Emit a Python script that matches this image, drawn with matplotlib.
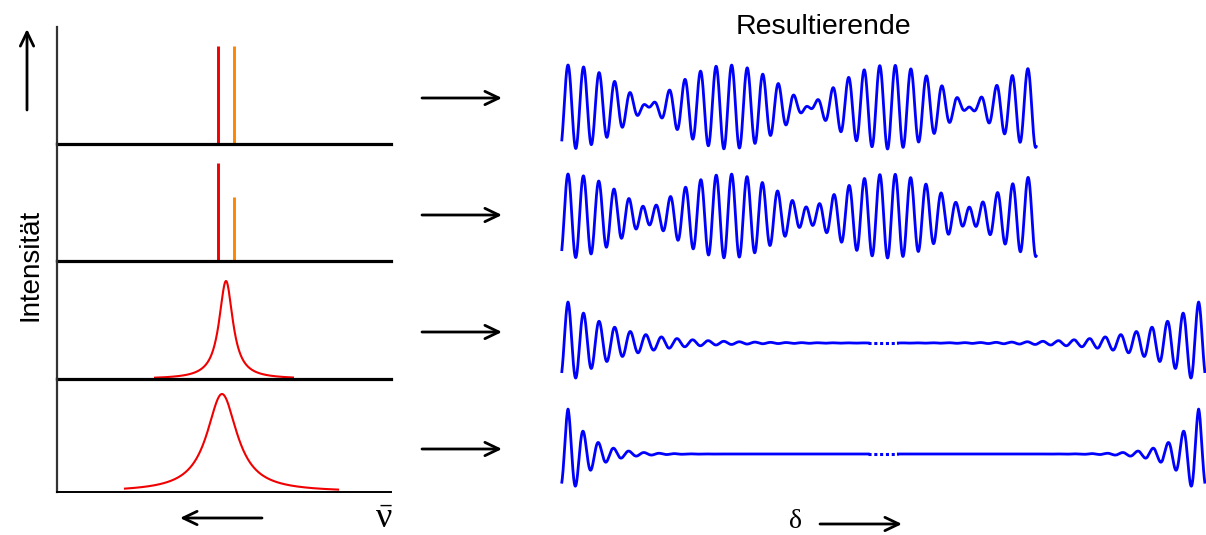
import numpy as np
import matplotlib
matplotlib.use("Agg")
import matplotlib.pyplot as plt

# ---------------- data ----------------
# spectral lines: wavenumber (arbitrary units, axis runs right->left) and relative intensity
doublet_nu = [1.036, 0.940]              # red line, orange line
doublet_int_equal = [1.0, 1.0]
doublet_int_unequal = [1.0, 0.65]
doublet_colors = ['#f00000', '#ff8400']
# broadened bands (Lorentzian): centre, half width, drawn range
band_centers = [0.988, 1.012]
band_hwhm = [0.05, 0.11]
band_ranges = [(0.587, 1.413), (0.317, 1.593)]
nu_range = (2.0, 0.0)
# optical path difference ranges
delta_doublet_max = 30.4
delta_band_half = 19.5
delta_gap = 1.95
delta_start = -0.4

label_intensity = "Intensität"
label_result = "Resultierende"
label_delta = "δ"
label_nu = r"$\bar{\nu}$"

# ---------------- layout ----------------
W, H = 1206, 535
plt.rcParams['font.family'] = ['Liberation Sans', 'DejaVu Sans']
plt.rcParams['mathtext.fontset'] = 'custom'
plt.rcParams['mathtext.rm'] = 'Liberation Serif'
plt.rcParams['mathtext.it'] = 'Liberation Serif'
fig = plt.figure(figsize=(W / 100, H / 100), dpi=100)


def px_axes(x0, y0, x1, y1):
    return fig.add_axes([x0 / W, 1 - y1 / H, (x1 - x0) / W, (y1 - y0) / H])


blue = '#0000ff'
red = '#f00000'
left_rows = [(27, 144), (144, 261), (261, 379), (379, 492)]
px_per_int = 98.0

left_axes = []
for k, (y0, y1) in enumerate(left_rows):
    ax = px_axes(57, y0, 391, y1)
    ax.set_xlim(*nu_range)
    ax.set_ylim(0, (y1 - y0) / px_per_int)
    ax.set_xticks([])
    ax.set_yticks([])
    ax.patch.set_alpha(0)
    for s in ('top', 'right'):
        ax.spines[s].set_visible(False)
    ax.spines['left'].set_color('#333333')
    ax.spines['left'].set_linewidth(1.6)
    ax.spines['bottom'].set_color('black')
    ax.spines['bottom'].set_linewidth(2.3 if k < 3 else 1.4)
    left_axes.append(ax)

# doublet spectra
for ax, ints in zip(left_axes[:2], [doublet_int_equal, doublet_int_unequal]):
    ax.vlines(doublet_nu, 0, ints, colors=doublet_colors, lw=2.1, zorder=1)

# band spectra
for ax, c, g, (lo, hi) in zip(left_axes[2:], band_centers, band_hwhm, band_ranges):
    nu = np.linspace(lo, hi, 600)
    ax.plot(nu, g ** 2 / ((nu - c) ** 2 + g ** 2), color=red, lw=1.5, clip_on=False)

# interferograms
d_origin_px, d_scale = 568.0, 15.4
right_rows = [(107, 42), (216, 42), (343, 41), (454, 45)]
right_axes = []
for yc, amp in right_rows:
    ax = px_axes(555, yc - 1.5 * amp, 1206, yc + 1.5 * amp)
    ax.set_xlim((555 - d_origin_px) / d_scale, (1206 - d_origin_px) / d_scale)
    ax.set_ylim(-1.5, 1.5)
    ax.axis('off')
    ax.patch.set_alpha(0)
    right_axes.append(ax)

for ax, ints in zip(right_axes[:2], [doublet_int_equal, doublet_int_unequal]):
    d = np.linspace(delta_start, delta_doublet_max, 4000)
    sig = sum(a * np.cos(2 * np.pi * n * d) for a, n in zip(ints, doublet_nu)) / sum(ints)
    ax.plot(d, sig, color=blue, lw=2.0, clip_on=False)

for ax, c, g in zip(right_axes[2:], band_centers, band_hwhm):
    d = np.linspace(delta_start, delta_band_half, 3000)
    sig = np.exp(-2 * np.pi * g * np.abs(d)) * np.cos(2 * np.pi * c * d)
    ax.plot(d, sig, color=blue, lw=2.0, clip_on=False)
    ax.plot(2 * delta_band_half + delta_gap - d, sig, color=blue, lw=2.0, clip_on=False)
    ax.plot([delta_band_half, delta_band_half + delta_gap], [0, 0], color=blue,
            lw=2.2, linestyle=(0, (1.0, 0.9)), clip_on=False)

# overlay for arrows and labels (pixel coordinates)
ov = fig.add_axes([0, 0, 1, 1])
ov.set_xlim(0, W)
ov.set_ylim(H, 0)
ov.axis('off')
ov.patch.set_alpha(0)

astyle = '->,head_length=1.0,head_width=0.48'


def arrow(x0, y0, x1, y1):
    ov.annotate('', xy=(x1, y1), xytext=(x0, y0),
                arrowprops=dict(arrowstyle=astyle, lw=2.0, color='black',
                                mutation_scale=10, shrinkA=0, shrinkB=0))


arrow(27, 110, 27, 29)
arrow(262, 518, 180, 518)
for ya in (98, 215, 332, 449):
    arrow(422, ya, 502, ya)
arrow(820, 524, 902, 524)

ov.text(30, 265, label_intensity, rotation=90, ha='center', va='center', fontsize=20)
ov.text(823, 27, label_result, ha='center', va='center', fontsize=20.5)
ov.text(796, 521, label_delta, ha='center', va='center', fontsize=20, family='Liberation Serif')
ov.text(384, 519, label_nu, ha='center', va='center', fontsize=26)

fig.savefig('out.png', dpi=100)
